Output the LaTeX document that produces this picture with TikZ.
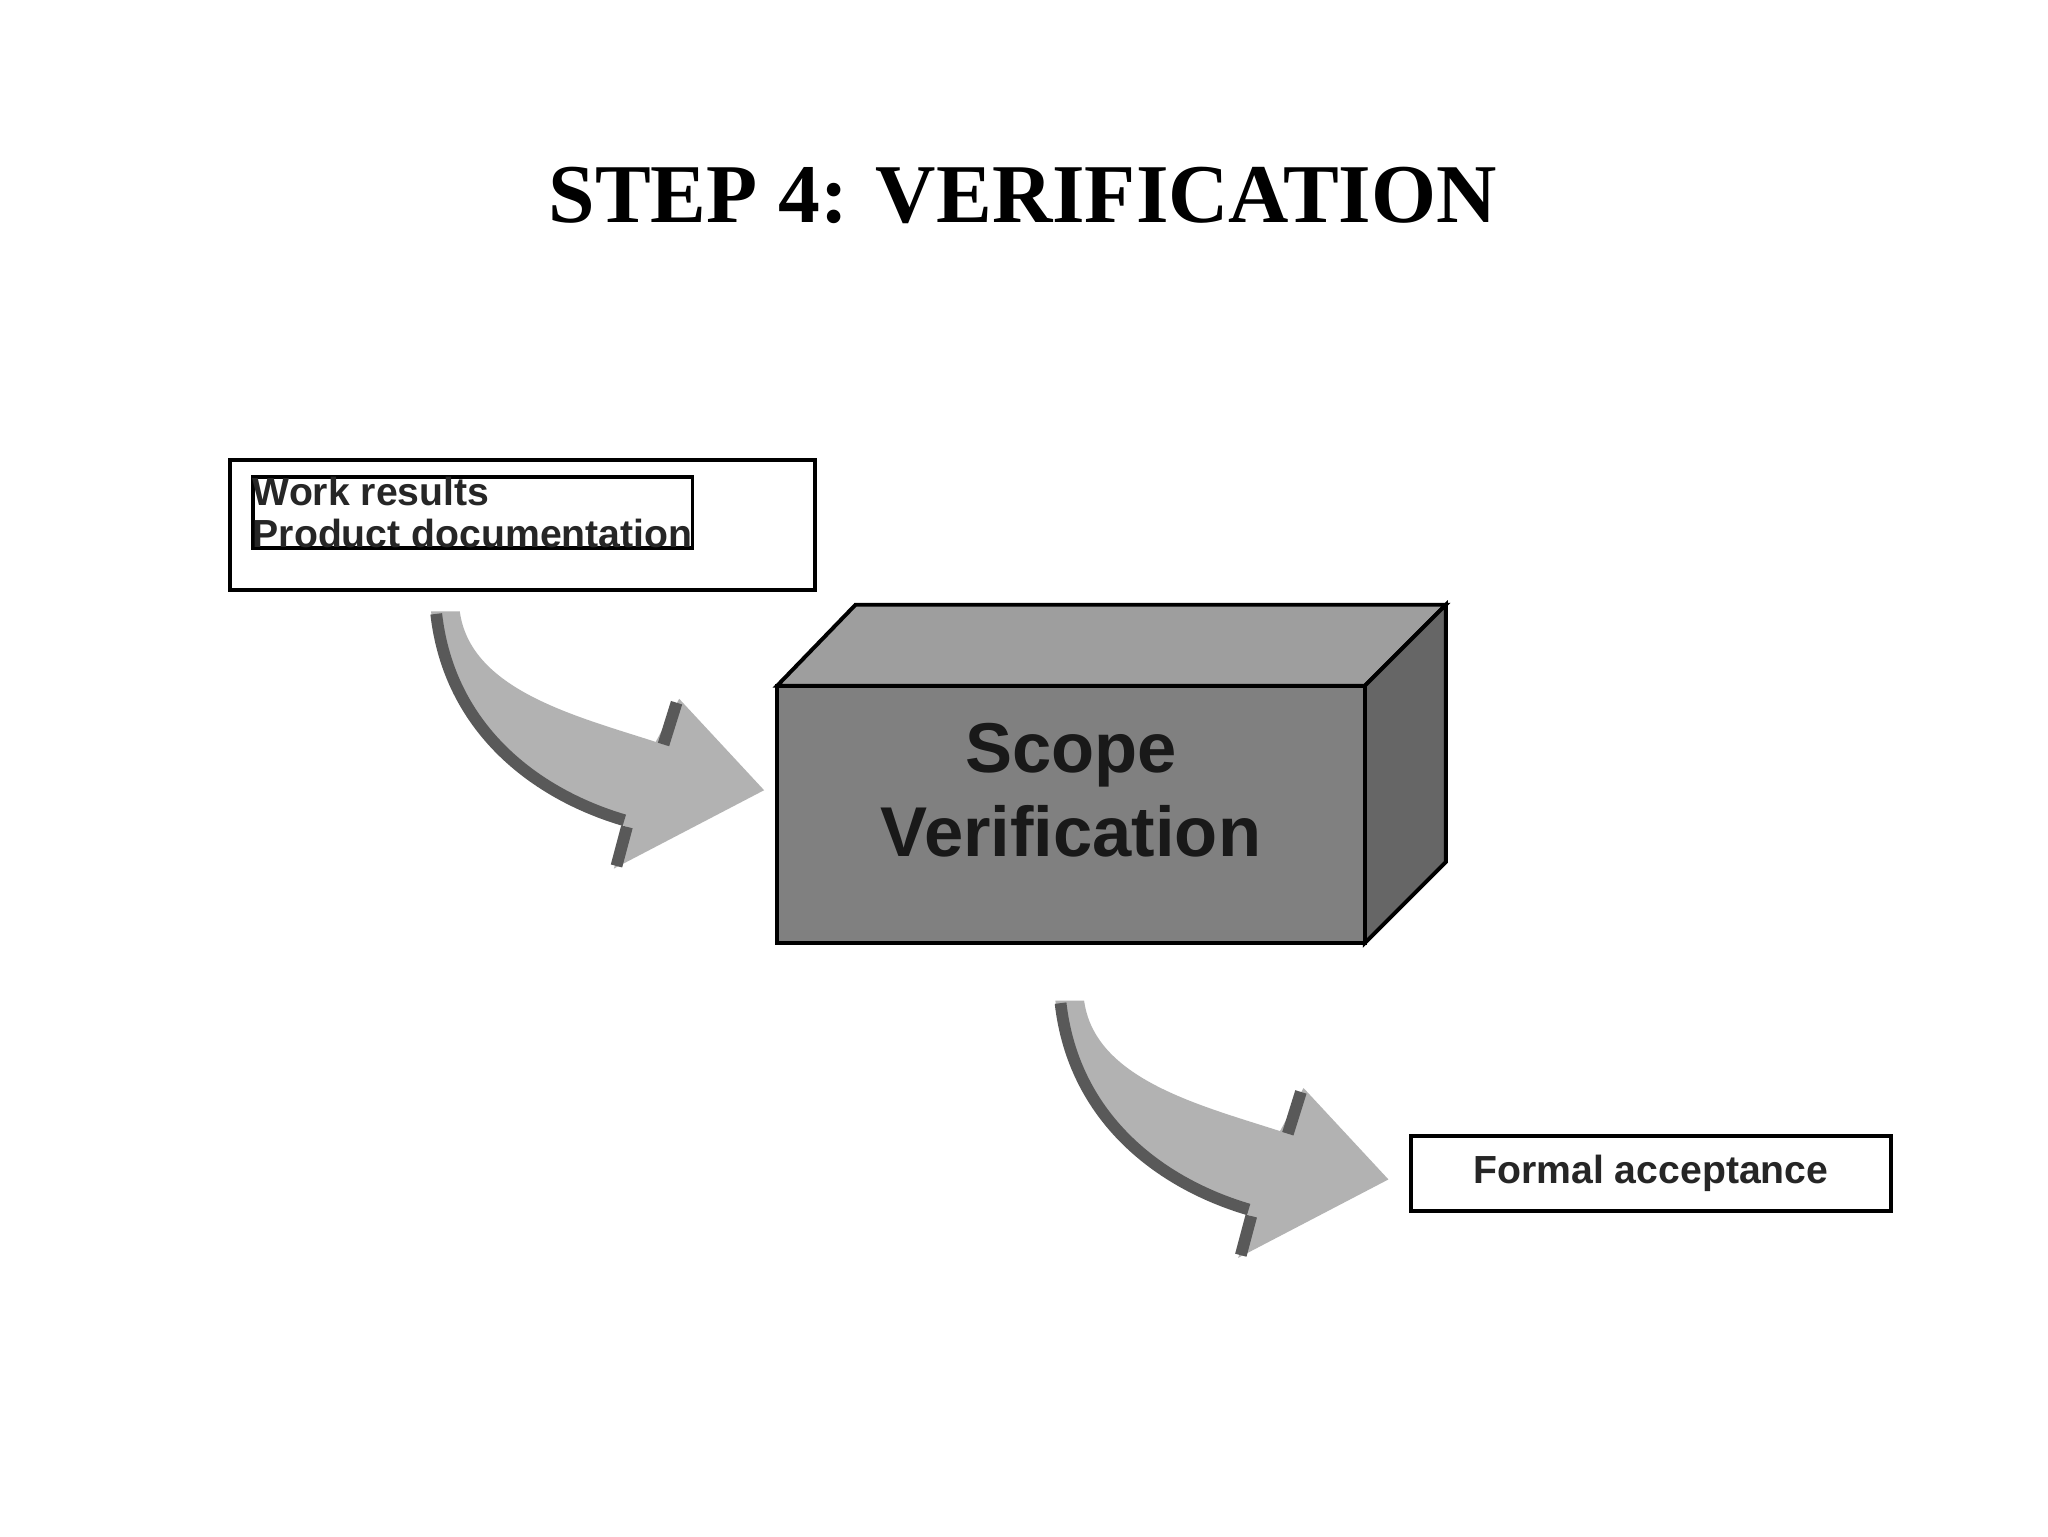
\documentclass[tikz,border=0pt]{standalone}
\usepackage{fontspec}
\setmainfont{Liberation Serif}
\setsansfont{Liberation Sans}
\tikzset{
  lbl/.style={draw=black, line width=3pt, fill=white, font=\sffamily\bfseries\fontsize{30}{36}\selectfont, text=black!85, align=left, inner sep=0pt, anchor=north west},
  pics/bigarrow/.style={code={
    \fill[black!30] (0,0) .. controls (10,90) and (80,140) .. (150,165) -- (140,197) -- (255,137) -- (190,67) -- (172,100)
       .. controls (110,80) and (30,60) .. (22,0) -- cycle;
    \draw[black!65, line width=9pt] (4,2) .. controls (14,90) and (80,140) .. (148,160);
    \draw[black!65, line width=9pt] (150,165) -- (142,195);
    \draw[black!65, line width=9pt] (188,70) -- (178,102);
  }}
}
\begin{document}
\begin{tikzpicture}[x=1pt,y=-1pt]
\useasboundingbox[fill=white] (0,0) rectangle (1568,1176);
\node[font=\bfseries\fontsize{64}{70}\selectfont] (title) at (783,150) {STEP 4: VERIFICATION};
% input box
\draw[line width=3pt, fill=white] (176,352) rectangle (624,452);
\node[lbl] (in) at (192,364) {Work results\\[-4pt]Product documentation};
% arrows
\pic at (330,468) {bigarrow};
\pic at (808,766) {bigarrow};
% 3D box
\draw[line width=3pt, fill=black!38] (595,525) -- (655,463) -- (1107,463) -- (1045,525) -- cycle;
\draw[line width=3pt, fill=black!60] (1045,525) -- (1107,463) -- (1107,660) -- (1045,722) -- cycle;
\draw[line width=3pt, fill=black!50] (595,525) rectangle (1045,722);
\node[font=\sffamily\bfseries\fontsize{54}{64}\selectfont, text=black!90, align=center] (sv) at (820,605) {Scope\\Verification};
% output box
\draw[line width=3pt, fill=white] (1080,870) rectangle (1448,927);
\node[font=\sffamily\bfseries\fontsize{30}{36}\selectfont, text=black!85] (out) at (1264,898) {Formal acceptance};
\end{tikzpicture}
\end{document}
